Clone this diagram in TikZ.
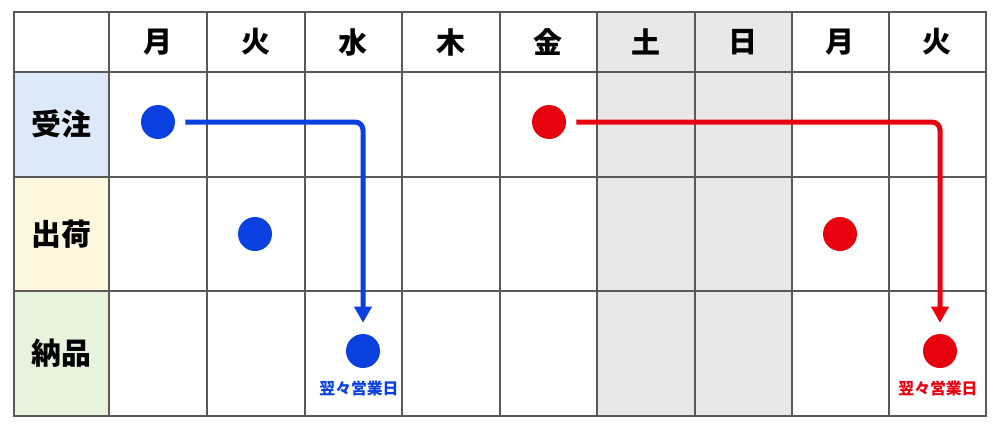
\documentclass[tikz,border=0pt]{standalone}
\usepackage{fontspec}
\setmainfont{Noto Sans CJK JP}
\usetikzlibrary{arrows.meta}
\definecolor{ordblue}{HTML}{0A3FE0}
\definecolor{ordred}{HTML}{E8000F}
\definecolor{rowblue}{HTML}{DDE9F8}
\definecolor{rowyellow}{HTML}{FDF8DD}
\definecolor{rowgreen}{HTML}{E7F3DD}
\definecolor{holiday}{HTML}{E8E8E8}
\tikzset{
  gridline/.style={draw=black!65,line width=0.6pt},
  dayhead/.style={font=\bfseries\fontsize{16.5}{16.5}\selectfont},
  rowhead/.style={font=\bfseries\fontsize{17}{17}\selectfont},
  dot/.style={circle,inner sep=0pt,minimum size=0.68cm},
  flow/.style={line width=0.1cm,rounded corners=0.16cm,
    -{Triangle[width=0.34cm,length=0.32cm]},
    shorten <=0.2cm,shorten >=0.22cm},
  note/.style={font=\bfseries\fontsize{9}{9}\selectfont}
}
\begin{document}
\begin{tikzpicture}[x=0.02cm,y=-0.02cm]
    \useasboundingbox (0,0) rectangle (1000,430);
    % backgrounds
    \fill[rowblue] (14,72) rectangle (109,177);
    \fill[rowyellow] (14,177) rectangle (109,291);
    \fill[rowgreen] (14,291) rectangle (109,416);
    \fill[holiday] (597,12) rectangle (792,416);
    % grid
    \draw[gridline] (14,12) rectangle (986,416);
    \foreach \x in {109,207,305,402,500,597,695,792,889}
        \draw[gridline] (\x,12) -- (\x,416);
    \foreach \y in {72,177,291}
        \draw[gridline] (14,\y) -- (986,\y);
    % days
    \foreach \x/\d in {158/月,256/火,353/水,451/木,548/金,646/土,743/日,840/月,937/火}
        \node[dayhead] at (\x,42) {\d};
    \node[rowhead] (order) at (61,124) {受注};
    \node[rowhead] (ship) at (61,234) {出荷};
    \node[rowhead] (deliver) at (61,353) {納品};
    % blue case
    \node[dot,fill=ordblue] (ob) at (158,122) {};
    \node[dot,fill=ordblue] (sb) at (255,234) {};
    \node[dot,fill=ordblue] (db) at (363,351) {};
    \draw[flow,ordblue] (ob) -| (db);
    \node[note,text=ordblue] at (359,388) {翌々営業日};
    % red case
    \node[dot,fill=ordred] (or) at (549,122) {};
    \node[dot,fill=ordred] (sr) at (840,234) {};
    \node[dot,fill=ordred] (dr) at (940,351) {};
    \draw[flow,ordred] (or) -| (dr);
    \node[note,text=ordred] at (938,388) {翌々営業日};
\end{tikzpicture}
\end{document}
